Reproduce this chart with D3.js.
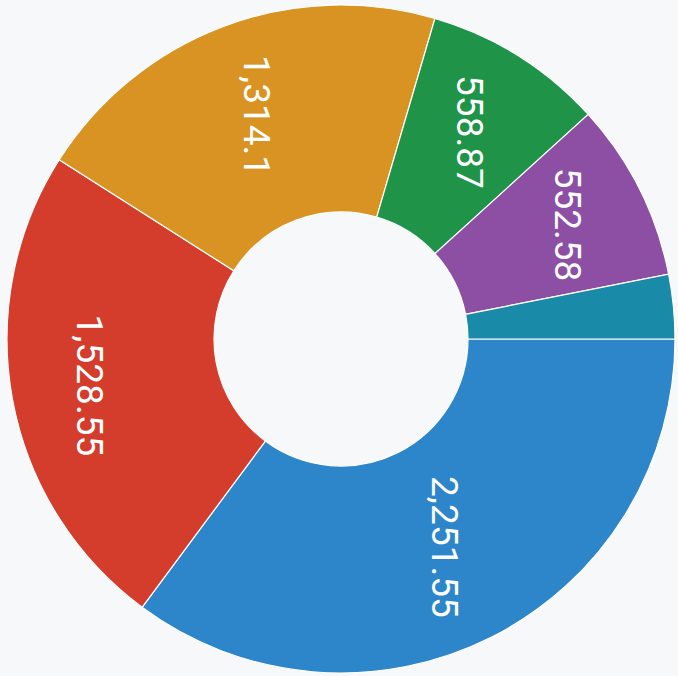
<!DOCTYPE html>
<html>
<head>
<meta charset="utf-8">
<script src="https://cdn.jsdelivr.net/npm/d3@7"></script>
<style>
  html, body { margin: 0; padding: 0; background: #f7f8fa; }
  svg { display: block; }
</style>
</head>
<body>
<svg id="chart" width="678" height="676"></svg>
<script>
// Category names and their values (the last slice is too thin to carry a label)
const categories = ["A", "B", "C", "D", "E", "F"];
const values = [2251.55, 1528.55, 1314.1, 558.87, 552.58, 199.2];
const colors = ["#2d86c9", "#d43d2c", "#d99322", "#1f9449", "#8c4fa3", "#1a8aa9"];

const width = 678, height = 676;
const cx = 341, cy = 339;
const outerR = 334, innerR = 127;

const svg = d3.select("#chart");
svg.append("rect").attr("width", width).attr("height", height).attr("fill", "#f7f8fa");

const data = categories.map((c, i) => ({ name: c, value: values[i], color: colors[i] }));

// Descending slices, starting at three o'clock and running clockwise
const pie = d3.pie()
  .value(d => d.value)
  .sort((a, b) => b.value - a.value)
  .startAngle(Math.PI / 2)
  .endAngle(Math.PI / 2 + 2 * Math.PI);

const arc = d3.arc().innerRadius(innerR).outerRadius(outerR);
const arcs = pie(data);

const g = svg.append("g").attr("transform", `translate(${cx},${cy})`);

g.selectAll("path.slice")
  .data(arcs)
  .join("path")
  .attr("class", "slice")
  .attr("d", arc)
  .attr("fill", d => d.data.color)
  .attr("stroke", "#ffffff")
  .attr("stroke-width", 1.2);

const fmt = d3.format(",");

// Vertical value labels inside the ring; side slices push the label a bit outward
g.selectAll("text.val")
  .data(arcs.filter(d => d.endAngle - d.startAngle > 0.3))
  .join("text")
  .attr("class", "val")
  .attr("transform", d => {
    const a = (d.startAngle + d.endAngle) / 2;
    const r = 222 + 34 * Math.abs(Math.sin(a)) + 5 * Math.cos(a);
    return `translate(${r * Math.sin(a)},${-r * Math.cos(a)}) rotate(90)`;
  })
  .attr("text-anchor", "middle")
  .attr("dy", "0.36em")
  .attr("fill", "#ffffff")
  .style("font-family", "Roboto, 'Noto Sans', sans-serif")
  .style("font-size", "37px")
  .style("font-weight", 400)
  .text(d => fmt(d.data.value));
</script>
</body>
</html>
